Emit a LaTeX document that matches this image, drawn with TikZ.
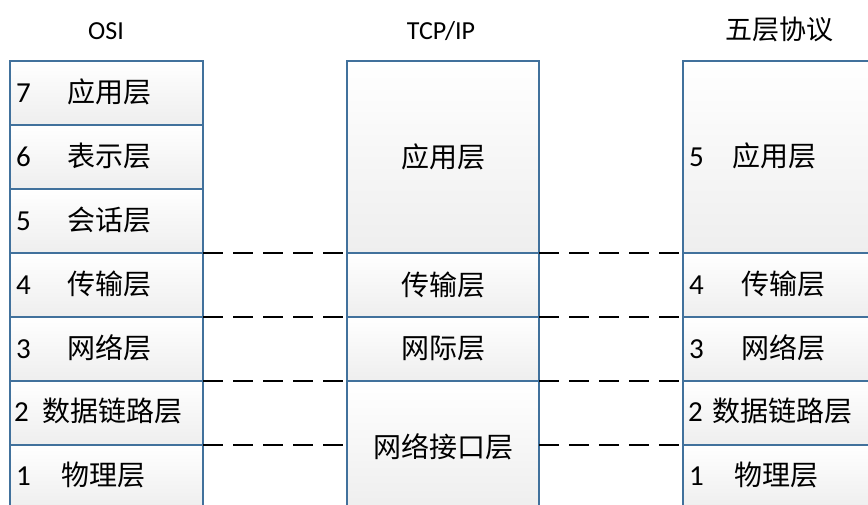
\documentclass[tikz,border=0pt]{standalone}
\usepackage{fontspec}
\setmainfont{Carlito}
\newfontfamily\cjk{Noto Sans CJK SC}
\definecolor{cellborder}{RGB}{65,113,156}
\definecolor{cellbottom}{RGB}{238,238,238}
\tikzset{
  cell/.style={draw=cellborder, line width=1.4pt, top color=white, bottom color=cellbottom,
    anchor=north west, inner sep=0pt, outer sep=0pt},
  num/.style={anchor=west, inner sep=0pt, font=\fontsize{29}{32}\selectfont},
  lbl/.style={anchor=west, inner sep=0pt, font=\cjk\fontsize{28}{30}\selectfont},
  clbl/.style={inner sep=0pt, font=\cjk\fontsize{28}{30}\selectfont},
  head/.style={inner sep=0pt, font=\fontsize{26}{28}\selectfont},
  chead/.style={inner sep=0pt, font=\cjk\fontsize{27}{30}\selectfont},
  dashline/.style={line width=2pt, black, dash pattern=on 20pt off 10pt},
}
\begin{document}
\begin{tikzpicture}[x=1pt,y=-1pt]
\useasboundingbox (0,0) rectangle (868,504);
\clip (0,0) rectangle (868,504);
% OSI column
\node[cell, minimum width=193, minimum height=64] (o7) at (10,61) {};
\node[cell, minimum width=193, minimum height=64] (o6) at (10,125) {};
\node[cell, minimum width=193, minimum height=64] (o5) at (10,189) {};
\node[cell, minimum width=193, minimum height=64] (o4) at (10,253) {};
\node[cell, minimum width=193, minimum height=64] (o3) at (10,317) {};
\node[cell, minimum width=193, minimum height=64] (o2) at (10,381) {};
\node[cell, minimum width=193, minimum height=64] (o1) at (10,445) {};
% TCP/IP column
\node[cell, minimum width=192, minimum height=192] (tapp) at (347,61) {};
\node[cell, minimum width=192, minimum height=64] (ttrans) at (347,253) {};
\node[cell, minimum width=192, minimum height=64] (tnet) at (347,317) {};
\node[cell, minimum width=192, minimum height=128] (tif) at (347,381) {};
% five layer column
\node[cell, minimum width=192, minimum height=192] (fapp) at (683,61) {};
\node[cell, minimum width=192, minimum height=64] (f4) at (683,253) {};
\node[cell, minimum width=192, minimum height=64] (f3) at (683,317) {};
\node[cell, minimum width=192, minimum height=64] (f2) at (683,381) {};
\node[cell, minimum width=192, minimum height=64] (f1) at (683,445) {};
% headers
\node[head] (hosi) at (106,31) {OSI};
\node[head] (htcp) at (441,31) {TCP/IP};
\node[chead] (hfive) at (779,29) {五层协议};
% OSI labels
\node[num] (n7) at (16,93) {7};
\node[lbl] (l7) at (67,92) {应用层};
\node[num] (n6) at (16,157) {6};
\node[lbl] (l6) at (67,156) {表示层};
\node[num] (n5) at (16,221) {5};
\node[lbl] (l5) at (67,220) {会话层};
\node[num] (n4) at (16,285) {4};
\node[lbl] (l4) at (67,284) {传输层};
\node[num] (n3) at (16,349) {3};
\node[lbl] (l3) at (67,348) {网络层};
\node[num] (n2) at (14,412) {2};
\node[lbl] (l2) at (42,411) {数据链路层};
\node[num] (n1) at (16,476) {1};
\node[lbl] (l1) at (61,475) {物理层};
% TCP/IP labels
\node[clbl] at (tapp.center) {应用层};
\node[clbl] at (ttrans.center) {传输层};
\node[clbl] at (tnet.center) {网际层};
\node[clbl] at ([yshift=-2]tif.center) {网络接口层};
% five layer labels
\node[num] (m5) at (689,157) {5};
\node[lbl] (k5) at (732,156) {应用层};
\node[num] (m4) at (689,285) {4};
\node[lbl] (k4) at (741,284) {传输层};
\node[num] (m3) at (689,349) {3};
\node[lbl] (k3) at (741,348) {网络层};
\node[num] (m2) at (688,412) {2};
\node[lbl] (k2) at (712,411) {数据链路层};
\node[num] (m1) at (689,476) {1};
\node[lbl] (k1) at (734,475) {物理层};
% dashed connectors
\draw[dashline] (o4.north east) -- (ttrans.north west);
\draw[dashline] (o3.north east) -- (tnet.north west);
\draw[dashline] (o2.north east) -- (tif.north west);
\draw[dashline] (o1.north east) -- (o1.north east -| tif.west);
\draw[dashline] (ttrans.north east) -- (f4.north west);
\draw[dashline] (tnet.north east) -- (f3.north west);
\draw[dashline] (tif.north east) -- (f2.north west);
\draw[dashline] (tif.east |- f1.north) -- (f1.north west);
\end{tikzpicture}
\end{document}
